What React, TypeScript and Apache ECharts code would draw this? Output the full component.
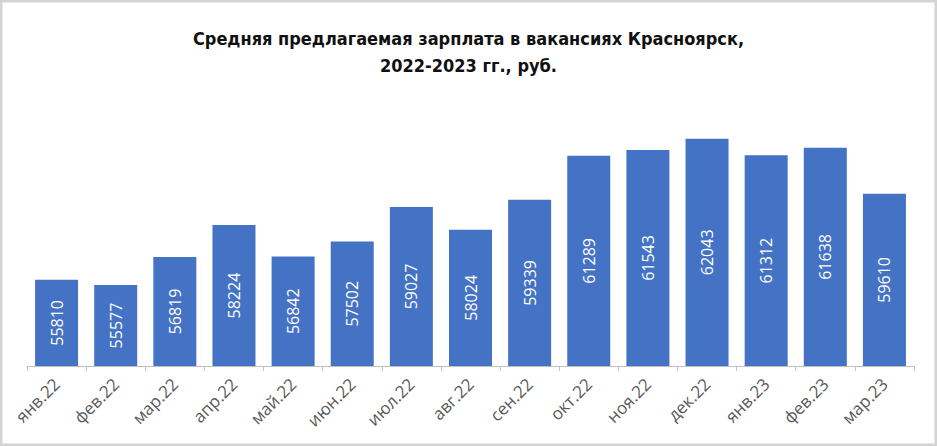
import React, { useEffect, useRef } from "react";
import * as echarts from "echarts";

const months = ["янв.22", "фев.22", "мар.22", "апр.22", "май.22", "июн.22", "июл.22", "авг.22", "сен.22", "окт.22", "ноя.22", "дек.22", "янв.23", "фев.23", "мар.23"];
const salaries = [55810, 55577, 56819, 58224, 56842, 57502, 59027, 58024, 59339, 61289, 61543, 62043, 61312, 61638, 59610];
const titleText = "Средняя предлагаемая зарплата в вакансиях Красноярск,\n2022-2023 гг., руб.";

export default function App() {
  const ref = useRef<HTMLDivElement>(null);
  useEffect(() => {
    document.body.style.margin = "0";
    const chart = echarts.init(ref.current!, undefined, { renderer: "svg" });
    chart.setOption({
      animation: false,
      backgroundColor: "#ffffff",
      title: {
        text: titleText,
        left: "center",
        top: 20,
        textStyle: {
          fontFamily: "'Liberation Sans Narrow', 'DejaVu Sans Condensed', 'Noto Sans', sans-serif",
          fontWeight: "bold",
          fontSize: 18,
          lineHeight: 27,
          color: "#111111",
        },
      },
      graphic: [
        {
          type: "rect",
          shape: { x: 1, y: 1, width: 935, height: 444 },
          style: { fill: "none", stroke: "#d4d4d4", lineWidth: 3 },
          silent: true,
        },
      ],
      grid: { left: 27, right: 23, top: 117, bottom: 80, containLabel: false },
      xAxis: {
        type: "category",
        data: months,
        axisLine: { lineStyle: { color: "#bfbfbf", width: 1 } },
        axisTick: { show: true, length: 5, lineStyle: { color: "#bfbfbf" } },
        axisLabel: {
          rotate: 45,
          color: "#595959",
          fontSize: 17,
          fontFamily: "'Open Sans', 'Noto Sans', sans-serif",
          margin: 15,
          interval: 0,
        },
      },
      yAxis: {
        type: "value",
        min: 52000,
        max: 63000,
        show: false,
        splitLine: { show: false },
      },
      series: [
        {
          type: "bar",
          data: salaries,
          barWidth: 43,
          itemStyle: { color: "#4472c4" },
          label: {
            show: true,
            position: "inside",
            rotate: 90,
            color: "#ffffff",
            fontSize: 16,
            fontFamily: "'Open Sans', 'Noto Sans', sans-serif",
          },
        },
      ],
    });
    return () => chart.dispose();
  }, []);
  return <div ref={ref} style={{ width: 937, height: 446 }} />;
}
